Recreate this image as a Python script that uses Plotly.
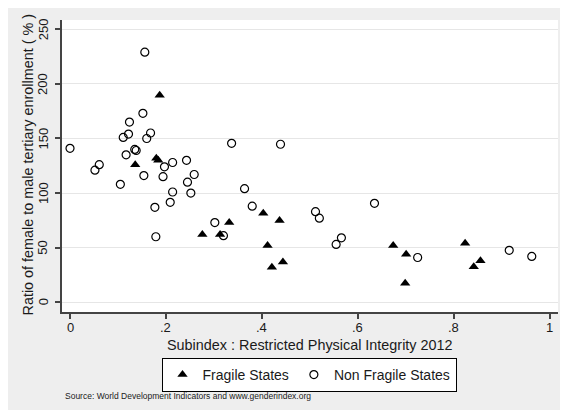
import plotly.graph_objects as go

# Fragile states (triangles)
fragile_x = [0.187, 0.180, 0.184, 0.136, 0.276, 0.313, 0.332, 0.403, 0.437, 0.412,
             0.421, 0.444, 0.674, 0.701, 0.699, 0.824, 0.842, 0.856]
fragile_y = [189.5, 132, 130, 126, 62, 62, 73, 81.5, 75, 52,
             32, 37, 52, 44, 17.5, 54, 32.5, 38]

# Non fragile states (hollow circles)
nonfragile_x = [0.000, 0.156, 0.152, 0.124, 0.111, 0.122, 0.168, 0.160, 0.135, 0.138,
                0.117, 0.197, 0.214, 0.243, 0.259, 0.154, 0.194, 0.052, 0.061, 0.105,
                0.214, 0.252, 0.245, 0.209, 0.177, 0.179, 0.337, 0.439, 0.364, 0.380,
                0.302, 0.320, 0.512, 0.520, 0.635, 0.566, 0.555, 0.725, 0.916, 0.963]
nonfragile_y = [141, 229, 173, 165, 151, 154, 155, 150, 140, 139,
                135, 124, 128, 130, 117, 116, 115, 121, 126, 108,
                101, 100, 110, 91.5, 87, 60, 145.6, 144.7, 104, 88,
                73, 61, 83, 77, 90.6, 59, 53, 41, 47.6, 42]

x_ticks = [0, 0.2, 0.4, 0.6, 0.8, 1]
x_tick_labels = ["0", ".2", ".4", ".6", ".8", "1"]
y_ticks = [0, 50, 100, 150, 200, 250]
y_tick_labels = ["0", "50", "100", "150", "200", "250"]

FONT = "Liberation Sans, Arial, sans-serif"
TXT = "#1a1a1a"

# page body has an 8px margin; work in page pixels and convert
OFF = 8
W, H = 568 - OFF, 414 - OFF
L, R, T, B = 62 - OFF, 558 - OFF, 20 - OFF, 312 - OFF
pw, ph = R - L, B - T


def px(page_x):
    return (page_x - OFF - L) / pw


def py(page_y):
    return (B - (page_y - OFF)) / ph


fig = go.Figure()
fig.add_trace(go.Scatter(
    x=fragile_x, y=fragile_y, mode="markers", name="Fragile States",
    marker=dict(symbol="triangle-up", size=9, color="black", line=dict(width=0)),
))
fig.add_trace(go.Scatter(
    x=nonfragile_x, y=nonfragile_y, mode="markers", name="Non Fragile States",
    marker=dict(symbol="circle-open", size=8, color="black", line=dict(width=1.2)),
))

annotations = [
    dict(text="Ratio of female to male tertiary enrollment ( % )",
         xref="paper", yref="paper", x=px(27), y=py(164.5),
         xanchor="center", yanchor="middle", textangle=-90, showarrow=False,
         font=dict(family=FONT, size=14.4, color=TXT)),
    dict(text="Subindex : Restricted Physical Integrity 2012",
         xref="paper", yref="paper", x=px(310), y=py(344.5),
         xanchor="center", yanchor="middle", showarrow=False,
         font=dict(family=FONT, size=14.4, color=TXT)),
    dict(text="Source: World Development Indicators and www.genderindex.org",
         xref="paper", yref="paper", x=px(63), y=py(396),
         xanchor="left", yanchor="middle", showarrow=False,
         font=dict(family=FONT, size=8.5, color=TXT)),
]
for v, t in zip(x_ticks, x_tick_labels):
    annotations.append(dict(text=t, xref="x", yref="paper", x=v, y=py(327.5),
                            xanchor="center", yanchor="middle", showarrow=False,
                            font=dict(family=FONT, size=13, color=TXT)))
for v, t in zip(y_ticks, y_tick_labels):
    annotations.append(dict(text=t, xref="paper", yref="y", x=px(43), y=v,
                            xanchor="center", yanchor="middle", textangle=-90,
                            showarrow=False,
                            font=dict(family=FONT, size=13, color=TXT)))

fig.update_layout(
    width=W, height=H,
    margin=dict(l=L, r=W - R, t=T, b=H - B, pad=0),
    paper_bgcolor="white",
    plot_bgcolor="white",
    font=dict(family=FONT, size=13, color=TXT),
    showlegend=True,
    legend=dict(
        orientation="h", x=px(309), xanchor="center", y=py(358), yanchor="top",
        bordercolor="black", borderwidth=1, bgcolor="white",
        font=dict(family=FONT, size=14, color=TXT),
        itemwidth=30, tracegroupgap=0,
    ),
    xaxis=dict(
        range=[-0.0167, 1.0177], tickvals=x_ticks, showticklabels=False,
        showgrid=False, zeroline=False, showline=True, linecolor="#444", linewidth=1.5,
        ticks="outside", ticklen=5, tickcolor="#444", tickwidth=1.5,
    ),
    yaxis=dict(
        range=[-8.9, 258.5], tickvals=y_ticks, showticklabels=False,
        showgrid=True, gridcolor="#e6e6e6", gridwidth=1, zeroline=False,
        showline=True, linecolor="#444", linewidth=1.5,
        ticks="outside", ticklen=5, tickcolor="#444", tickwidth=1.5,
    ),
    shapes=[
        dict(type="rect", xref="paper", yref="paper", layer="below",
             x0=px(0), x1=px(563), y0=py(410), y1=py(0),
             fillcolor="#eeeeee", line=dict(width=0)),
        dict(type="rect", xref="paper", yref="paper", layer="below",
             x0=0, x1=1, y0=0, y1=1,
             fillcolor="white", line=dict(width=0)),
    ],
    annotations=annotations,
)

fig.write_html("out.html")
